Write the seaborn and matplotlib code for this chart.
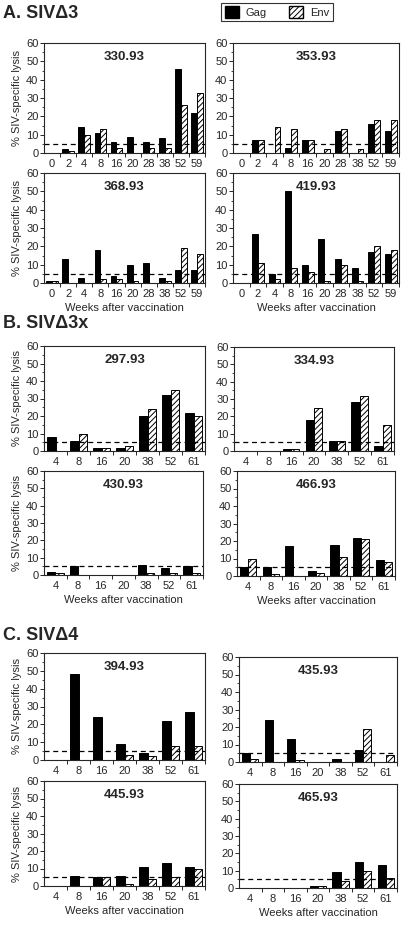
import numpy as np
import pandas as pd
import matplotlib
matplotlib.use("Agg")
import matplotlib.pyplot as plt
import seaborn as sns
from matplotlib.patches import Patch
from matplotlib.ticker import MultipleLocator

weeks_A = ['0', '2', '4', '8', '16', '20', '28', '38', '52', '59']
weeks_BC = ['4', '8', '16', '20', '38', '52', '61']

# A. SIVd3
gag_330 = [0, 2, 14, 11, 6, 9, 6, 8, 46, 22]
env_330 = [0, 1, 10, 13, 3, 0, 3, 3, 26, 33]
gag_353 = [0, 7, 0, 3, 7, 0, 12, 0, 16, 12]
env_353 = [0, 7, 14, 13, 7, 2, 13, 2, 18, 18]
gag_368 = [1, 13, 3, 18, 4, 10, 11, 3, 7, 7]
env_368 = [1, 0, 0, 2, 2, 1, 0, 1, 19, 16]
gag_419 = [0, 27, 5, 50, 10, 24, 13, 8, 17, 16]
env_419 = [0, 11, 2, 8, 6, 1, 10, 1, 20, 18]

# B. SIVd3x
gag_297 = [8, 6, 2, 2, 20, 32, 22]
env_297 = [0, 10, 2, 3, 24, 35, 20]
gag_334 = [0, 0, 1, 18, 6, 28, 3]
env_334 = [0, 0, 1, 25, 6, 32, 15]
gag_430 = [2, 5, 0, 0, 6, 4, 5]
env_430 = [1, 0, 0, 0, 1, 1, 1]
gag_466 = [5, 5, 17, 3, 18, 22, 9]
env_466 = [10, 1, 0, 2, 11, 21, 8]

# C. SIVd4
gag_394 = [0, 48, 24, 9, 4, 22, 27]
env_394 = [0, 0, 0, 3, 2, 8, 8]
gag_435 = [5, 24, 13, 0, 2, 7, 0]
env_435 = [2, 0, 1, 0, 0, 19, 4]
gag_445 = [0, 6, 5, 6, 11, 13, 11]
env_445 = [0, 0, 5, 1, 4, 5, 10]
gag_465 = [0, 0, 0, 1, 9, 15, 13]
env_465 = [0, 0, 0, 1, 4, 10, 6]

cutoff = 5

sns.set_style('ticks')
plt.rcParams['font.family'] = ['Liberation Sans', 'DejaVu Sans']
plt.rcParams['hatch.linewidth'] = 0.7

W, H = 408, 925
fig = plt.figure(figsize=(W / 100, H / 100), dpi=100)


def add_ax(l, t, r, b):
    return fig.add_axes([l / W, 1 - b / H, (r - l) / W, (b - t) / H])


def draw_panel(ax, weeks, gag, env, title, ylabel=False, xlabel=False):
    df = pd.DataFrame({
        'week': weeks * 2,
        'lysis': gag + env,
        'antigen': ['Gag'] * len(weeks) + ['Env'] * len(weeks),
    })
    sns.barplot(data=df, x='week', y='lysis', hue='antigen', order=weeks,
                hue_order=['Gag', 'Env'], palette=['black', 'white'],
                edgecolor='black', linewidth=0.7, width=0.72, ax=ax,
                legend=False, errorbar=None)
    for p in ax.containers[1]:
        p.set_hatch('//////')
    n = len(weeks)
    ax.axhline(cutoff, color='black', ls=(0, (4, 3)), lw=0.9)
    ax.set_xlim(-0.5, n - 0.5)
    ax.set_ylim(0, 60)
    ax.set_yticks(range(0, 61, 10))
    ax.yaxis.set_minor_locator(MultipleLocator(5))
    ax.set_xticks(np.arange(n) + 0.5, minor=True)
    ax.tick_params(axis='x', which='major', length=0, labelsize=8, pad=4)
    ax.tick_params(axis='x', which='minor', length=3, width=0.7)
    ax.tick_params(axis='y', which='major', length=3, width=0.7, labelsize=8, pad=1)
    ax.tick_params(axis='y', which='minor', length=1.8, width=0.6)
    for s in ax.spines.values():
        s.set_linewidth(0.8)
    ax.text(0.5, 0.87, title, transform=ax.transAxes, ha='center', va='center',
            fontsize=9.5, fontweight='bold')
    ax.set_ylabel('% SIV-specific lysis' if ylabel else '', fontsize=8, labelpad=3)
    ax.set_xlabel('Weeks after vaccination' if xlabel else '', fontsize=8, labelpad=3)


panels = [
    ((44, 43, 205, 153), weeks_A, gag_330, env_330, '330.93', True, False),
    ((233, 43, 399, 153), weeks_A, gag_353, env_353, '353.93', False, False),
    ((44, 173, 205, 283), weeks_A, gag_368, env_368, '368.93', True, True),
    ((233, 173, 399, 283), weeks_A, gag_419, env_419, '419.93', False, True),
    ((44, 346, 205, 451), weeks_BC, gag_297, env_297, '297.93', True, False),
    ((234, 347, 394, 451), weeks_BC, gag_334, env_334, '334.93', False, False),
    ((44, 471, 203, 575), weeks_BC, gag_430, env_430, '430.93', True, True),
    ((237, 471, 395, 576), weeks_BC, gag_466, env_466, '466.93', False, True),
    ((44, 653, 205, 760), weeks_BC, gag_394, env_394, '394.93', True, False),
    ((239, 657, 397, 762), weeks_BC, gag_435, env_435, '435.93', False, False),
    ((44, 781, 205, 886), weeks_BC, gag_445, env_445, '445.93', True, True),
    ((239, 784, 397, 888), weeks_BC, gag_465, env_465, '465.93', False, True),
]

for box, wk, g, e, t, yl, xl in panels:
    ax = add_ax(*box)
    draw_panel(ax, wk, g, e, t, yl, xl)

fig.text(3 / W, 1 - 13 / H, 'A. SIV\u03943', fontsize=13, fontweight='bold', va='center')
fig.text(3 / W, 1 - 323 / H, 'B. SIV\u03943x', fontsize=13, fontweight='bold', va='center')
fig.text(3 / W, 1 - 636 / H, 'C. SIV\u03944', fontsize=13, fontweight='bold', va='center')

handles = [Patch(facecolor='black', edgecolor='black', label='Gag'),
           Patch(facecolor='white', edgecolor='black', hatch='//////', label='Env')]
leg = fig.legend(handles=handles, ncol=2, loc='center', bbox_to_anchor=(277 / W, 1 - 12 / H),
                 fontsize=8, frameon=True, fancybox=False, edgecolor='black',
                 handlelength=1.3, handleheight=1.3, columnspacing=2.0,
                 borderpad=0.3, handletextpad=0.6)
leg.get_frame().set_linewidth(0.8)

fig.savefig('out.png', dpi=100)
